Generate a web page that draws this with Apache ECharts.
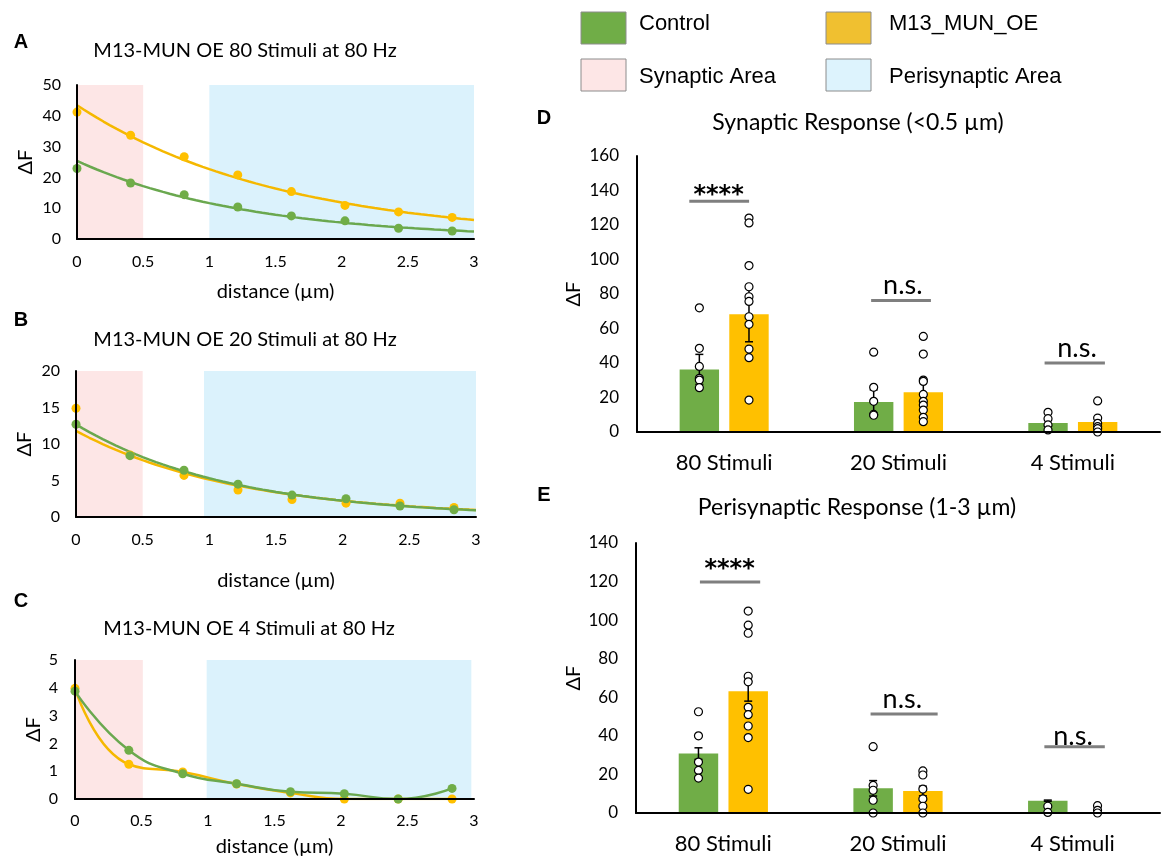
<!DOCTYPE html>
<html><head><meta charset="utf-8">
<script src="https://cdn.jsdelivr.net/npm/echarts@6/dist/echarts.min.js"></script>
<style>html,body{margin:0;padding:0;background:#fff}#c{width:1161px;height:863px}</style>
</head><body><div id="c"></div>
<script>
// ---------- data ----------
const distance = [0, 0.405, 0.81, 1.215, 1.62, 2.025, 2.43, 2.835];
const a80Control = [22.9, 18.2, 14.4, 10.4, 7.5, 5.9, 3.5, 2.6];
const a80OE = [41.2, 33.7, 26.7, 20.8, 15.4, 10.9, 8.8, 7.0];
const b20Control = [12.7, 8.4, 6.4, 4.5, 3.0, 2.5, 1.5, 1.0];
const b20OE = [14.9, 8.5, 5.7, 3.7, 2.4, 1.9, 1.9, 1.3];
const c4Control = [3.88, 1.75, 0.91, 0.55, 0.26, 0.19, 0, 0.38];
const c4OE = [3.98, 1.25, 0.97, 0.54, 0.22, 0, 0, 0];

const categories = ['80 Stimuli', '20 Stimuli', '4 Stimuli'];
const synControlMean = [36.3, 17.4, 5.2];
const synOEMean = [68.3, 23.0, 5.8];
const synControlErr = [8.7, 7.0, 2.0];
const synOEErr = [16.0, 6.5, 2.6];
const synControlPts = [[72.0, 48.5, 38.0, 31.1, 30.1, 25.7], [46.3, 25.9, 17.8, 10.2, 9.7], [11.4, 7.7, 4.1, 1.2]];
const synOEPts = [[124, 121.2, 96.5, 84.2, 78.4, 75.7, 66.8, 62.4, 48.1, 43.1, 18.5], [55.4, 45.2, 30.1, 29.3, 21.8, 17.8, 15.6, 12.7, 8.5, 6.0], [18.0, 8.1, 5.0, 3.1, 1.9, 0]];

const periControlMean = [30.8, 12.8, 6.4];
const periOEMean = [63.1, 11.4, 0.5];
const periControlErr = [3.0, 4.0, 0.3];
const periOEErr = [5.1, 2.5, 0.4];
const periControlPts = [[52.5, 40.0, 26.4, 22.1, 18.1], [34.4, 14.3, 11.8, 6.6, 0], [3.5, 0.3]];
const periOEPts = [[104.7, 97.4, 93.2, 70.9, 68.0, 54.8, 51.0, 45.1, 39.1, 12.3], [21.8, 19.7, 12.4, 7.3, 3.5, 0], [3.8, 1.4, 0]];

const synSigText = ['****', 'n.s.', 'n.s.'];
const periSigText = ['****', 'n.s.', 'n.s.'];

// ---------- annotation config ----------
const synSig = [
  {from: -0.2, to: 0.143, y: 133.8, tx: -0.032, ty: 137.0},
  {from: 0.843, to: 1.186, y: 76.3, tx: 1.025, ty: 85.1},
  {from: 1.838, to: 2.184, y: 40.0, tx: 2.024, ty: 48.5}
];
const periSig = [
  {from: -0.134, to: 0.211, y: 119.8, tx: 0.036, ty: 126.0},
  {from: 0.843, to: 1.227, y: 51.3, tx: 1.025, ty: 59.1},
  {from: 1.838, to: 2.184, y: 34.4, tx: 2.002, ty: 39.8}
];

const GREEN = '#70AD47', YELLOW = '#FFC000';
const GREEN_LINE = '#6AA84F', YELLOW_LINE = '#F5B800';
const PINK = '#FDE6E6', BLUE = '#DBF2FC';
const F = 'Lato', ARIAL = 'Liberation Sans';

function expFit(xs, ys) {
  const n = xs.length; let sx = 0, sy = 0, sxx = 0, sxy = 0;
  for (let i = 0; i < n; i++) { const ly = Math.log(ys[i]); sx += xs[i]; sy += ly; sxx += xs[i] * xs[i]; sxy += xs[i] * ly; }
  const b = (n * sxy - sx * sy) / (n * sxx - sx * sx); const a = (sy - b * sx) / n;
  return x => Math.exp(a + b * x);
}
function trendData(xs, ys) {
  const f = expFit(xs, ys); const out = [];
  for (let i = 0; i <= 60; i++) { const x = i * 0.05; out.push([x, f(x)]); }
  return out;
}
const pairs = (xs, ys) => xs.map((x, i) => [x, ys[i]]);

// bar geometry
const BW = 0.226, BG = 0.26;
const OFF = (BW + BW * BG) / 2;
const dotData = (groups, sign) => {
  const out = [];
  groups.forEach((g, i) => g.forEach(v => out.push([i + sign * OFF, v])));
  return out;
};
const errData = (means, errs, sign) => means.map((m, i) => [i + sign * OFF, m, errs[i]]);

function errRender(params, api) {
  const x = api.value(0), m = api.value(1), e = api.value(2);
  const t = api.coord([x, m + e]), b = api.coord([x, Math.max(0, m - e)]);
  const hw = 4, st = {stroke: '#000', lineWidth: 1.5};
  return {type: 'group', children: [
    {type: 'line', shape: {x1: t[0], y1: t[1], x2: b[0], y2: b[1]}, style: st},
    {type: 'line', shape: {x1: t[0] - hw, y1: t[1], x2: t[0] + hw, y2: t[1]}, style: st},
    {type: 'line', shape: {x1: b[0] - hw, y1: b[1], x2: b[0] + hw, y2: b[1]}, style: st}
  ]};
}
function sigSeries(cfg, texts, xi, yi) {
  return {
    type: 'custom', xAxisIndex: xi, yAxisIndex: yi, z: 6, silent: true,
    data: cfg.map(c => [c.from, c.to, c.y, c.tx, c.ty]),
    renderItem(params, api) {
      const p1 = api.coord([api.value(0), api.value(2)]);
      const p2 = api.coord([api.value(1), api.value(2)]);
      const pt = api.coord([api.value(3), api.value(4)]);
      const txt = texts[params.dataIndex];
      const star = txt === '****';
      return {type: 'group', children: [
        {type: 'line', shape: {x1: p1[0], y1: p1[1], x2: p2[0], y2: p2[1]}, style: {stroke: '#7F7F7F', lineWidth: 3}},
        {type: 'text', x: pt[0], y: pt[1], style: {text: txt, fill: '#000', align: 'center', verticalAlign: 'middle',
          font: star ? 'bold 24px "DejaVu Sans"' : '27px ' + F}}
      ]};
    }
  };
}

// ---------- axes ----------
const tickLbl = (sz, m) => ({color: '#000', fontFamily: F, fontSize: sz, margin: m});
const axLine = {show: true, onZero: false, lineStyle: {color: '#000', width: 2}};
const distAxis = (gi, gap, m) => ({
  type: 'value', gridIndex: gi, min: 0, max: 3, interval: 0.5, z: 10,
  axisLine: axLine, axisTick: {show: false}, splitLine: {show: false},
  axisLabel: tickLbl(16, m),
  name: 'distance (µm)', nameLocation: 'middle', nameGap: gap,
  nameTextStyle: {color: '#000', fontFamily: F, fontSize: 20}
});
const dfAxis = (gi, max, iv, gap, sz, m) => ({
  type: 'value', gridIndex: gi, min: 0, max: max, interval: iv, z: 10,
  axisLine: axLine, axisTick: {show: false}, splitLine: {show: false},
  axisLabel: tickLbl(sz, m),
  name: 'ΔF', nameLocation: 'middle', nameGap: gap, nameRotate: 90,
  nameTextStyle: {color: '#000', fontFamily: F, fontSize: 20}
});
const catAxis = gi => ({
  type: 'category', gridIndex: gi, data: categories, z: 10,
  axisLine: axLine, axisTick: {show: false},
  axisLabel: {color: '#000', fontFamily: F, fontSize: 22, margin: 20}
});
const hidAxis = gi => ({type: 'value', gridIndex: gi, min: -0.5, max: 2.5, show: false});

const areas = (blueFrom, blueTo, pinkTo) => ({
  silent: true,
  data: [
    [{xAxis: 0, itemStyle: {color: PINK}}, {xAxis: pinkTo}],
    [{xAxis: blueFrom, itemStyle: {color: BLUE}}, {xAxis: blueTo}]
  ]
});

const lineS = (xi, data, color, extra) => Object.assign({
  type: 'line', xAxisIndex: xi, yAxisIndex: xi, data: data, showSymbol: false,
  lineStyle: {color: color, width: 2.5}, itemStyle: {color: color}, z: 3, silent: true
}, extra || {});
const ptsS = (xi, data, color, extra) => Object.assign({
  type: 'scatter', xAxisIndex: xi, yAxisIndex: xi, data: data, symbolSize: 9,
  itemStyle: {color: color, opacity: 1}, z: 4, silent: true
}, extra || {});

const barS = (xi, yi, name, data, color) => ({
  type: 'bar', name: name, xAxisIndex: xi, yAxisIndex: yi, data: data,
  barWidth: (BW * 100) + '%', barGap: (BG * 100) + '%', itemStyle: {color: color}, z: 2, silent: true
});
const dotS = (xi, yi, data) => ({
  type: 'scatter', xAxisIndex: xi, yAxisIndex: yi, data: data, symbolSize: 8,
  itemStyle: {color: '#fff', borderColor: '#000', borderWidth: 1.2, opacity: 1}, z: 5, silent: true
});
const errS = (xi, yi, data) => ({type: 'custom', xAxisIndex: xi, yAxisIndex: yi, data: data, renderItem: errRender, z: 4, silent: true});

const txt = (x, y, s, font, align) => ({type: 'text', x: x, y: y, silent: true,
  style: {text: s, font: font, fill: '#000', align: align || 'center', verticalAlign: 'middle'}});
const sq = (x, y, color) => ({type: 'rect', shape: {x: x, y: y, width: 45, height: 32}, silent: true,
  style: {fill: color, stroke: '#8C8C8C', lineWidth: 1}});

const option = {
  animation: false,
  backgroundColor: '#fff',
  grid: [
    {left: 77, top: 85, width: 397, height: 154},
    {left: 76, top: 371, width: 400, height: 146},
    {left: 75, top: 660, width: 399, height: 139},
    {left: 637, top: 156, width: 523, height: 276},
    {left: 636, top: 543, width: 524, height: 270}
  ],
  xAxis: [
    distAxis(0, 43, 15), distAxis(1, 54, 15), distAxis(2, 38, 14),
    catAxis(3), hidAxis(3), catAxis(4), hidAxis(4)
  ],
  yAxis: [
    dfAxis(0, 50, 10, 41, 16, 16), dfAxis(1, 20, 5, 41, 16, 16), dfAxis(2, 5, 1, 31, 16, 17),
    dfAxis(3, 160, 20, 53, 17, 18), dfAxis(4, 140, 20, 52, 17, 18)
  ],
  series: [
    // A
    ptsS(0, pairs(distance, a80OE), YELLOW, {markArea: areas(1, 3, 0.5)}),
    lineS(0, trendData(distance, a80OE), YELLOW_LINE),
    ptsS(0, pairs(distance, a80Control), GREEN),
    lineS(0, trendData(distance, a80Control), GREEN_LINE),
    // B
    ptsS(1, pairs(distance, b20OE), YELLOW, {markArea: areas(0.96, 3, 0.5)}),
    lineS(1, trendData(distance, b20OE), YELLOW_LINE),
    ptsS(1, pairs(distance, b20Control), GREEN),
    lineS(1, trendData(distance, b20Control), GREEN_LINE),
    // C
    lineS(2, pairs(distance, c4OE), YELLOW_LINE, {smooth: 0.5, showSymbol: true, symbol: 'circle', symbolSize: 9,
      itemStyle: {color: YELLOW}, markArea: areas(0.99, 2.98, 0.51)}),
    lineS(2, pairs(distance, c4Control), GREEN_LINE, {smooth: 0.5, showSymbol: true, symbol: 'circle', symbolSize: 9,
      itemStyle: {color: GREEN}}),
    // D
    barS(3, 3, 'Control', synControlMean, GREEN),
    barS(3, 3, 'M13_MUN_OE', synOEMean, YELLOW),
    errS(4, 3, errData(synControlMean, synControlErr, -1)),
    errS(4, 3, errData(synOEMean, synOEErr, 1)),
    dotS(4, 3, dotData(synControlPts, -1)),
    dotS(4, 3, dotData(synOEPts, 1)),
    sigSeries(synSig, synSigText, 4, 3),
    // E
    barS(5, 4, 'Control', periControlMean, GREEN),
    barS(5, 4, 'M13_MUN_OE', periOEMean, YELLOW),
    errS(6, 4, errData(periControlMean, periControlErr, -1)),
    errS(6, 4, errData(periOEMean, periOEErr, 1)),
    dotS(6, 4, dotData(periControlPts, -1)),
    dotS(6, 4, dotData(periOEPts, 1)),
    sigSeries(periSig, periSigText, 6, 4)
  ],
  graphic: [
    txt(21, 42, 'A', 'bold 20px ' + ARIAL), txt(21, 320, 'B', 'bold 20px ' + ARIAL), txt(21, 601, 'C', 'bold 20px ' + ARIAL),
    txt(544, 118, 'D', 'bold 20px ' + ARIAL), txt(544, 495, 'E', 'bold 20px ' + ARIAL),
    txt(245, 51, 'M13-MUN OE 80 Stimuli at 80 Hz', '20px ' + F),
    txt(245, 340, 'M13-MUN OE 20 Stimuli at 80 Hz', '20px ' + F),
    txt(249, 629, 'M13-MUN OE 4 Stimuli at 80 Hz', '20px ' + F),
    txt(858, 123, 'Synaptic Response (<0.5 µm)', '23px ' + F),
    txt(857, 508, 'Perisynaptic Response (1-3 µm)', '23px ' + F),
    sq(581, 12, GREEN), sq(826, 12, '#F0C030'), sq(581, 59, PINK), sq(826, 59, '#DDF3FD'),
    txt(639, 24, 'Control', '22px ' + ARIAL, 'left'),
    txt(889, 24, 'M13_MUN_OE', '22px ' + ARIAL, 'left'),
    txt(639, 77, 'Synaptic Area', '22px ' + ARIAL, 'left'),
    txt(889, 77, 'Perisynaptic Area', '22px ' + ARIAL, 'left')
  ]
};
const chart = echarts.init(document.getElementById('c'));
chart.setOption(option);
</script></body></html>
